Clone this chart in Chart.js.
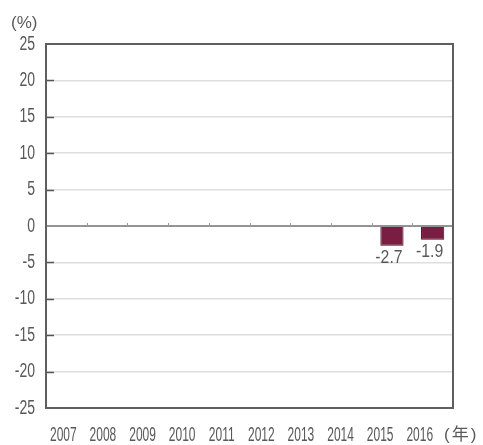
<!DOCTYPE html>
<html>
<head>
<meta charset="utf-8">
<script src="https://cdn.jsdelivr.net/npm/chart.js@4"></script>
<style>
    html, body { margin: 0; padding: 0; background: #fff; }
    #wrap { width: 483px; height: 445px; position: relative; }
</style>
</head>
<body>
<div id="wrap"><canvas id="chart" width="483" height="445"></canvas></div>
<script>
// --- Data ---
const years = ['2007', '2008', '2009', '2010', '2011', '2012', '2013', '2014', '2015', '2016'];
const values = [null, null, null, null, null, null, null, null, -2.7, -1.9];
const yMin = -25;
const yMax = 25;
const yStep = 5;

const FONT = "'Liberation Sans', Arial, sans-serif";
const TEXT_COLOR = '#595959';

// draw condensed text (the original uses a narrow face)
function squeezedText(ctx, text, x, y, size, scaleX, align) {
    ctx.save();
    ctx.font = size + 'px ' + FONT;
    ctx.textAlign = align;
    ctx.textBaseline = 'middle';
    ctx.translate(x, y);
    ctx.scale(scaleX, 1);
    ctx.fillText(text, 0, 0);
    ctx.restore();
}

// frame, inner ticks, zero line, tick labels, unit labels, value labels
const decorPlugin = {
    id: 'decor',
    afterDatasetsDraw(chart) {
        const { ctx, chartArea: a, scales: { x, y } } = chart;
        ctx.save();

        // zero line with small ticks at category boundaries
        const y0 = Math.round(y.getPixelForValue(0));
        ctx.strokeStyle = '#707070';
        ctx.lineWidth = 1.5;
        ctx.beginPath();
        ctx.moveTo(a.left, y0);
        ctx.lineTo(a.right, y0);
        ctx.stroke();
        ctx.lineWidth = 1;
        ctx.strokeStyle = '#9a9a9a';
        ctx.beginPath();
        for (let i = 1; i < years.length; i++) {
            const px = Math.round(x.getPixelForValue(i - 0.5)) + 0.5;
            ctx.moveTo(px, y0 - 3);
            ctx.lineTo(px, y0);
        }
        ctx.stroke();

        // inner ticks on the left axis
        ctx.strokeStyle = '#555';
        ctx.lineWidth = 1.5;
        ctx.beginPath();
        for (let v = yMin + yStep; v < yMax; v += yStep) {
            if (v === 0) continue;
            const py = Math.round(y.getPixelForValue(v)) + 0.5;
            ctx.moveTo(a.left, py);
            ctx.lineTo(a.left + 8, py);
        }
        ctx.stroke();

        // frame
        ctx.strokeStyle = '#5f5f5f';
        ctx.lineWidth = 2;
        ctx.strokeRect(a.left, a.top, a.right - a.left, a.bottom - a.top);

        ctx.fillStyle = TEXT_COLOR;

        // y tick labels
        y.ticks.forEach(t => {
            squeezedText(ctx, String(t.value), a.left - 11, y.getPixelForValue(t.value), 20, 0.7, 'right');
        });

        // x tick labels (slightly tighter than the category grid, as in the original)
        years.forEach((yr, i) => {
            squeezedText(ctx, yr, x.getPixelForValue(i) - 3 - i * 1.1, 435, 20, 0.6, 'center');
        });

        // value labels under the bars
        const meta = chart.getDatasetMeta(0);
        meta.data.forEach((bar, i) => {
            if (values[i] === null) return;
            squeezedText(ctx, values[i].toFixed(1), bar.x - 3, bar.y + 12, 18, 0.88, 'center');
        });

        // unit labels
        ctx.font = '17px ' + FONT;
        ctx.textAlign = 'left';
        ctx.textBaseline = 'middle';
        ctx.fillText('(%)', 11, 23);
        ctx.font = "17px 'Liberation Sans', 'Noto Sans CJK JP', sans-serif";
        ctx.letterSpacing = '2px';
        ctx.fillText('(年)', 444, 435);

        ctx.restore();
    }
};

new Chart(document.getElementById('chart'), {
    type: 'bar',
    data: {
        labels: years,
        datasets: [{
            data: values,
            backgroundColor: '#7a1d42',
            borderColor: '#3e0b20',
            borderWidth: 1,
            categoryPercentage: 1,
            barPercentage: 0.57
        }]
    },
    options: {
        responsive: false,
        animation: false,
        devicePixelRatio: 1,
        layout: { padding: { top: 44, right: 30, left: 0, bottom: 0 } },
        plugins: {
            legend: { display: false },
            tooltip: { enabled: false }
        },
        scales: {
            x: {
                grid: { display: false },
                border: { display: false },
                ticks: { display: false },
                afterFit(scale) { scale.height = 37; }
            },
            y: {
                min: yMin,
                max: yMax,
                grid: {
                    color: (c) => c.tick.value === 0 ? 'rgba(0,0,0,0)' : '#dedede',
                    lineWidth: 1.5,
                    drawTicks: false
                },
                border: { display: false },
                ticks: { display: false, stepSize: yStep },
                afterFit(scale) { scale.width = 46; }
            }
        }
    },
    plugins: [decorPlugin]
});
</script>
</body>
</html>
